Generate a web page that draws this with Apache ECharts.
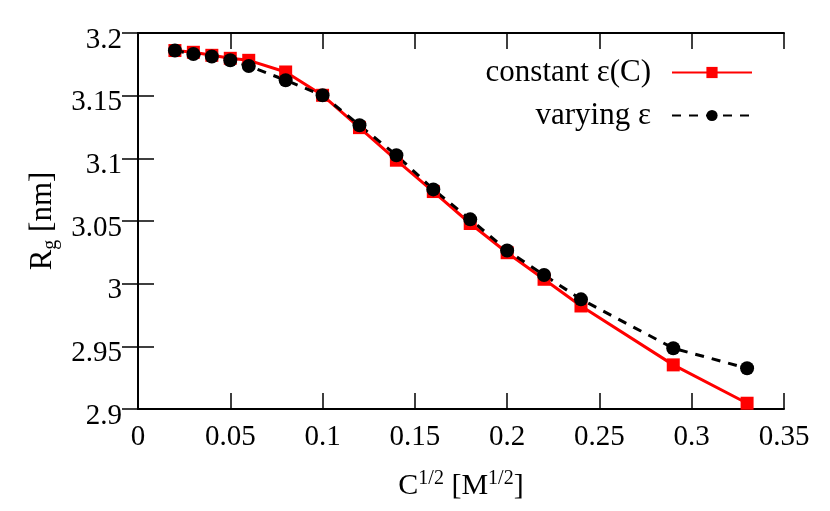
<!DOCTYPE html>
<html>
<head>
<meta charset="utf-8">
<script src="https://cdn.jsdelivr.net/npm/echarts@6/dist/echarts.min.js"></script>
<style>
  html, body { margin: 0; padding: 0; background: #fff; }
  #chart { width: 830px; height: 511px; }
</style>
</head>
<body>
<div id="chart"></div>
<script>
"use strict";

// C^(1/2) values, shared by both series
var sqrtC = [0.02, 0.03, 0.04, 0.05, 0.06, 0.08, 0.1, 0.12, 0.14, 0.16, 0.18, 0.2, 0.22, 0.24, 0.29, 0.33];
// Rg [nm]
var rgConstant = [3.186, 3.1846, 3.1822, 3.1798, 3.1782, 3.1689, 3.1503, 3.1245, 3.0985, 3.0735, 3.048, 3.0247, 3.0035, 2.9822, 2.9352, 2.9046];
var rgVarying = [3.186, 3.1832, 3.1812, 3.1782, 3.1737, 3.1623, 3.1503, 3.1264, 3.1025, 3.0752, 3.0513, 3.0265, 3.0069, 2.9875, 2.9485, 2.9325];

var seriesNames = ['constant ε(C)', 'varying ε'];

var FONT = '"Liberation Serif", "DejaVu Serif", serif';

function pairs(xs, ys) {
  return xs.map(function (x, i) { return [x, ys[i]]; });
}

var chart = echarts.init(document.getElementById('chart'));

var tickStyle = { show: true, inside: true, length: 16, lineStyle: { color: '#000', width: 1.5 } };
var lineStyle = { show: true, lineStyle: { color: '#000', width: 2 } };
var labelStyle = { fontFamily: FONT, fontSize: 29, color: '#000' };
var legendText = { fontFamily: FONT, fontSize: 31, color: '#000', lineHeight: 30, padding: [0, 16, 0, 0] };

var option = {
  animation: false,
  backgroundColor: '#ffffff',
  grid: { left: 138, right: 46, top: 33, bottom: 102 },
  legend: [
    {
      data: [seriesNames[0]],
      right: 77, top: 57, padding: 0,
      align: 'right',
      itemWidth: 80, itemHeight: 14,
      textStyle: legendText
    },
    {
      data: [seriesNames[1]],
      right: 77, top: 100, padding: 0,
      align: 'right',
      itemWidth: 80, itemHeight: 14,
      textStyle: legendText
    }
  ],
  xAxis: [
    {
      type: 'value', min: 0, max: 0.35, interval: 0.05,
      axisLine: lineStyle, axisTick: tickStyle, splitLine: { show: false },
      axisLabel: Object.assign({ margin: 14 }, labelStyle),
      name: '{n|C}{s|1/2}{n| [M}{s|1/2}{n|]}',
      nameLocation: 'middle', nameGap: 60,
      nameTextStyle: {
        rich: {
          n: { fontFamily: FONT, fontSize: 30, color: '#000', lineHeight: 34 },
          s: { fontFamily: FONT, fontSize: 20, color: '#000', lineHeight: 18, verticalAlign: 'top' }
        }
      }
    },
    {
      type: 'value', position: 'top', min: 0, max: 0.35, interval: 0.05,
      axisLine: lineStyle, axisTick: tickStyle, splitLine: { show: false },
      axisLabel: { show: false }
    }
  ],
  yAxis: [
    {
      type: 'value', min: 2.9, max: 3.2, interval: 0.05,
      axisLine: lineStyle, axisTick: tickStyle, splitLine: { show: false },
      axisLabel: Object.assign({ margin: 16, verticalAlign: 'top', lineHeight: 14 }, labelStyle),
      name: '{n|R}{s|g}{n| [nm]}',
      nameLocation: 'middle', nameRotate: 90, nameGap: 76,
      nameTextStyle: {
        rich: {
          n: { fontFamily: FONT, fontSize: 31, color: '#000', lineHeight: 34 },
          s: { fontFamily: FONT, fontSize: 20, color: '#000', lineHeight: 18, verticalAlign: 'bottom' }
        }
      }
    },
    {
      type: 'value', position: 'right', min: 2.9, max: 3.2, interval: 0.05,
      axisLine: lineStyle, axisTick: tickStyle, splitLine: { show: false },
      axisLabel: { show: false }
    }
  ],
  series: [
    {
      name: seriesNames[0],
      type: 'line',
      data: pairs(sqrtC, rgConstant),
      symbol: 'rect', symbolSize: 13,
      color: '#ff0000',
      itemStyle: { color: '#ff0000' },
      lineStyle: { color: '#ff0000', width: 3 }
    },
    {
      name: seriesNames[1],
      type: 'line',
      data: pairs(sqrtC, rgVarying),
      symbol: 'circle', symbolSize: 14,
      color: '#000000',
      itemStyle: { color: '#000000' },
      lineStyle: { color: '#000000', width: 3, type: [9, 8] }
    }
  ]
};

chart.setOption(option);
</script>
</body>
</html>
